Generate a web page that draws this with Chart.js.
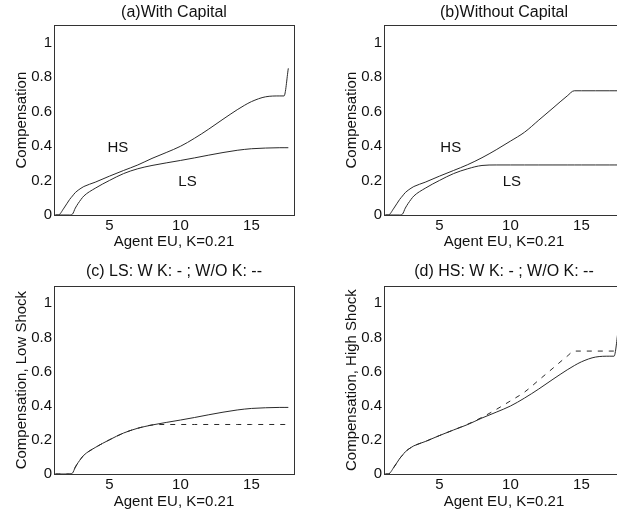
<!DOCTYPE html>
<html>
<head>
<meta charset="utf-8">
<script src="https://cdn.jsdelivr.net/npm/chart.js@4.4.1/dist/chart.umd.min.js"></script>
<style>
  html, body { margin: 0; padding: 0; background: #fff; overflow: hidden; width: 617px; height: 514px; }
  .panel { position: absolute; }
</style>
</head>
<body>
<div class="panel" style="left:0;top:0"><canvas id="chartA" width="310" height="257"></canvas></div>
<div class="panel" style="left:330px;top:0"><canvas id="chartB" width="310" height="257"></canvas></div>
<div class="panel" style="left:0;top:257px"><canvas id="chartC" width="310" height="257"></canvas></div>
<div class="panel" style="left:330px;top:257px"><canvas id="chartD" width="310" height="257"></canvas></div>
<script>
// agent expected utility grid (x) shared by every curve
const euGrid = [1.2, 1.4, 1.8, 2.2, 2.4, 2.6, 3.0, 3.2, 4, 5, 6, 7, 8, 9, 10, 11, 12, 13, 14, 14.5, 15, 16, 17, 17.3, 17.6];

// compensation
const hsWithK    = [0, 0, 0.04, 0.09, 0.11, 0.13, 0.155, 0.165, 0.19, 0.225, 0.258, 0.29, 0.328, 0.362, 0.398, 0.445, 0.498, 0.555, 0.61, 0.635, 0.657, 0.685, 0.69, 0.69, 0.85];
const lsWithK    = [0, 0, 0, 0, 0.005, 0.04, 0.09, 0.11, 0.155, 0.2, 0.24, 0.268, 0.287, 0.302, 0.316, 0.331, 0.347, 0.362, 0.375, 0.38, 0.384, 0.388, 0.39, 0.39, 0.39];
const hsWithoutK = [0, 0, 0.04, 0.09, 0.11, 0.13, 0.155, 0.165, 0.19, 0.225, 0.258, 0.292, 0.332, 0.378, 0.428, 0.48, 0.55, 0.62, 0.69, 0.72, 0.72, 0.72, 0.72, 0.72, 0.72];
const lsWithoutK = [0, 0, 0, 0, 0.005, 0.04, 0.09, 0.11, 0.155, 0.2, 0.24, 0.268, 0.287, 0.29, 0.29, 0.29, 0.29, 0.29, 0.29, 0.29, 0.29, 0.29, 0.29, 0.29, 0.29];

const panelTitles = ['(a)With Capital', '(b)Without Capital', '(c) LS: W K: - ; W/O K: --', '(d) HS: W K: - ; W/O K: --'];
const yTitles = ['Compensation', 'Compensation', 'Compensation, Low Shock', 'Compensation, High Shock'];
const xTitle = 'Agent EU, K=0.21';

Chart.defaults.font.family = '"Liberation Sans", Arial, Helvetica, sans-serif';
Chart.defaults.font.size = 15;
Chart.defaults.color = '#111';

const toPoints = ys => euGrid.map((x, i) => ({x: x, y: ys[i]}));

// box around the plot area and the HS / LS text marks
const frameAndText = {
  id: 'frameAndText',
  afterDraw(chart, args, opts) {
    const ctx = chart.ctx, a = chart.chartArea;
    ctx.save();
    ctx.strokeStyle = '#333';
    ctx.lineWidth = 1;
    ctx.strokeRect(Math.round(a.left) + 0.5, Math.round(a.top) + 0.5, Math.round(a.right - a.left), Math.round(a.bottom - a.top));
    ctx.fillStyle = '#111';
    ctx.font = '15px "Liberation Sans", Arial, sans-serif';
    ctx.textAlign = 'center';
    ctx.textBaseline = 'middle';
    (opts.items || []).forEach(t => {
      ctx.fillText(t.text, chart.scales.x.getPixelForValue(t.x), chart.scales.y.getPixelForValue(t.y));
    });
    ctx.restore();
  }
};

function line(ys, dashed) {
  return {
    data: toPoints(ys),
    borderColor: '#2a2a2a',
    borderWidth: 1,
    borderDash: dashed ? [5, 6] : [],
    pointRadius: 0,
    cubicInterpolationMode: 'monotone',
    fill: false
  };
}

function makePanel(id, idx, datasets, marks, top) {
  return new Chart(document.getElementById(id), {
    type: 'line',
    data: {datasets: datasets},
    plugins: [frameAndText],
    options: {
      responsive: false,
      animation: false,
      layout: {padding: {left: 0, right: 16, top: 0, bottom: 0}},
      plugins: {
        legend: {display: false},
        tooltip: {enabled: false},
        title: {
          display: true,
          text: panelTitles[idx],
          fullSize: false,
          font: {size: 16, weight: 'normal'},
          padding: top ? {top: 3, bottom: 3} : {top: 5, bottom: 5}
        },
        frameAndText: {items: marks}
      },
      scales: {
        x: {
          type: 'linear',
          min: 1.1,
          max: 18,
          grid: {display: false, drawTicks: false},
          border: {display: false},
          ticks: {stepSize: 5, includeBounds: false, padding: 2, maxRotation: 0},
          title: {display: true, text: xTitle, font: {size: 15}, padding: {top: 0, bottom: top ? 6 : 3}},
          afterFit: s => { s.height = top ? 42 : 40; }
        },
        y: {
          min: 0,
          max: 1.1,
          grid: {display: false, drawTicks: false},
          border: {display: false},
          ticks: {stepSize: 0.2, includeBounds: false, padding: 2, callback: v => String(+v.toFixed(2))},
          title: {display: true, text: yTitles[idx], font: {size: 15}, padding: {top: 13, bottom: 0}},
          afterFit: s => { s.width = 54; }
        }
      }
    }
  });
}

makePanel('chartA', 0, [line(hsWithK), line(lsWithK)],
  [{text: 'HS', x: 5.6, y: 0.39}, {text: 'LS', x: 10.5, y: 0.19}], true);
makePanel('chartB', 1, [line(hsWithoutK), line(lsWithoutK)],
  [{text: 'HS', x: 5.8, y: 0.39}, {text: 'LS', x: 10.1, y: 0.19}], true);
makePanel('chartC', 2, [line(lsWithK), line(lsWithoutK, true)], [], false);
makePanel('chartD', 3, [line(hsWithK), line(hsWithoutK, true)], [], false);
</script>
</body>
</html>
